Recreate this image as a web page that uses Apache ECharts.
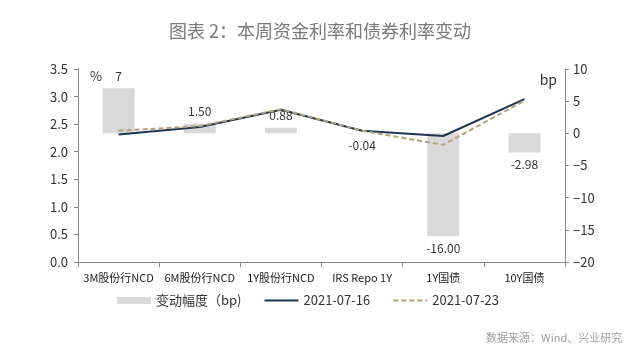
<!DOCTYPE html>
<html><head><meta charset="utf-8">
<script src="https://cdn.jsdelivr.net/npm/echarts@6/dist/echarts.min.js"></script>
<style>html,body{margin:0;padding:0;background:#fff}#c{width:640px;height:356px}</style>
</head><body><div id="c"></div>
<script>
var categories = ['3M股份行NCD','6M股份行NCD','1Y股份行NCD','IRS Repo 1Y','1Y国债','10Y国债'];
var changeBp = [7, 1.50, 0.88, -0.04, -16.00, -2.98];
var changeLabels = ['7','1.50','0.88','-0.04','-16.00','-2.98'];
var rate0716 = [2.31, 2.45, 2.76, 2.38, 2.285, 2.955];
var rate0723 = [2.38, 2.465, 2.77, 2.38, 2.125, 2.925];
var leftTicks = {min: 0, max: 3.5, interval: 0.5};
var rightTicks = {min: -20, max: 10, interval: 5};

var font = '"Noto Sans CJK SC", "Noto Sans", sans-serif';
var barData = changeBp.map(function (v, i) {
  return {value: v, label: {position: v >= 0 ? 'top' : 'bottom', formatter: changeLabels[i]}};
});
var chart = echarts.init(document.getElementById('c'), null, {renderer: 'canvas'});
chart.setOption({
  animation: false,
  textStyle: {fontFamily: font},
  title: [{
    text: '图表 2：本周资金利率和债券利率变动',
    left: 'center', top: 17,
    textStyle: {fontSize: 18, color: '#7a7a7a', fontWeight: 'normal', fontFamily: font}
  }, {
    text: '数据来源：Wind、兴业研究',
    left: 481, top: 327,
    textStyle: {fontSize: 11, color: '#a0a0a0', fontWeight: 'normal', fontFamily: font}
  }],
  grid: {left: 78, right: 75, top: 69, bottom: 94},
  legend: {
    left: 112, top: 289, itemGap: 22, itemWidth: 34, itemHeight: 7,
    textStyle: {fontSize: 13, color: '#333', fontFamily: font},
    data: [
      {name: '变动幅度（bp)', icon: 'rect'},
      {name: '2021-07-16', itemStyle: {opacity: 0}},
      {name: '2021-07-23', itemStyle: {opacity: 0}}
    ]
  },
  xAxis: {
    type: 'category', data: categories,
    axisLine: {lineStyle: {color: '#888'}},
    axisTick: {show: true, alignWithLabel: false, lineStyle: {color: '#888'}},
    axisLabel: {color: '#222', fontSize: 11, interval: 0, margin: 10, fontFamily: font}
  },
  yAxis: [{
    type: 'value', min: leftTicks.min, max: leftTicks.max, interval: leftTicks.interval,
    name: '%', nameLocation: 'end', nameGap: -14,
    nameTextStyle: {fontSize: 13, color: '#333', align: 'left', padding: [0, 0, 0, 12]},
    axisLine: {show: true, lineStyle: {color: '#888'}},
    axisTick: {show: true, inside: false, length: 4, lineStyle: {color: '#888'}},
    splitLine: {show: false},
    axisLabel: {color: '#333', fontSize: 13, margin: 10, formatter: function (v) { return v.toFixed(1); }}
  }, {
    type: 'value', min: rightTicks.min, max: rightTicks.max, interval: rightTicks.interval,
    position: 'right',
    name: 'bp', nameLocation: 'end', nameGap: -18,
    nameTextStyle: {fontSize: 14, color: '#333', align: 'right', padding: [0, 8, 0, 0]},
    axisLine: {show: true, lineStyle: {color: '#888'}},
    axisTick: {show: true, length: 4, lineStyle: {color: '#888'}},
    splitLine: {show: false},
    axisLabel: {color: '#333', fontSize: 13, margin: 8, formatter: function (v) { return v < 0 ? '\u2212' + Math.abs(v) : String(v); }}
  }],
  series: [{
    name: '变动幅度（bp)', type: 'bar', yAxisIndex: 1, barWidth: 32,
    itemStyle: {color: '#d9d9d9'},
    label: {show: true, distance: 6, color: '#333', fontSize: 12},
    data: barData, z: 1
  }, {
    name: '2021-07-16', type: 'line', yAxisIndex: 0, data: rate0716,
    symbol: 'none', lineStyle: {color: '#1c3550', width: 2}, itemStyle: {color: '#1c3550'}, z: 3
  }, {
    name: '2021-07-23', type: 'line', yAxisIndex: 0, data: rate0723,
    symbol: 'none', lineStyle: {color: '#b5a27c', width: 2, type: [5, 3]}, itemStyle: {color: '#b5a27c'}, z: 4
  }]
});
</script></body></html>
